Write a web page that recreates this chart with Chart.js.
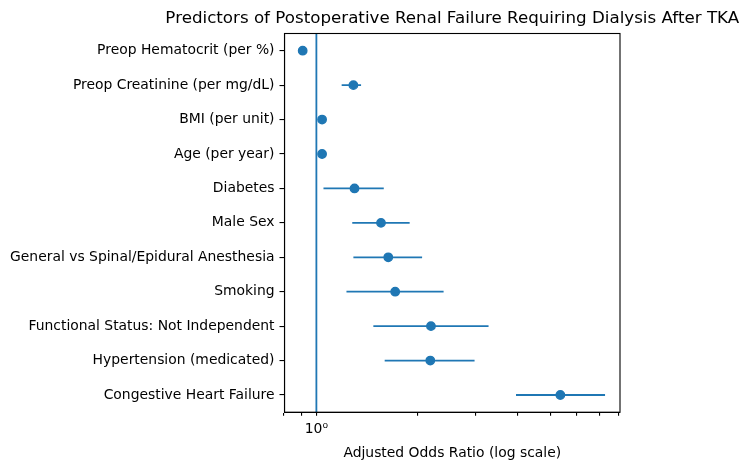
<!DOCTYPE html>
<html>
<head>
<meta charset="utf-8">
<script src="https://cdn.jsdelivr.net/npm/chart.js@4"></script>
<style>
  html, body { margin: 0; padding: 0; background: #fff; }
  #wrap { width: 747px; height: 470px; }
</style>
</head>
<body>
<div id="wrap"><canvas id="chart"></canvas></div>
<script>
// predictors, listed top to bottom as in the figure
const predictors = [
    "Preop Hematocrit (per %)",
    "Preop Creatinine (per mg/dL)",
    "BMI (per unit)",
    "Age (per year)",
    "Diabetes",
    "Male Sex",
    "General vs Spinal/Epidural Anesthesia",
    "Smoking",
    "Functional Status: Not Independent",
    "Hypertension (medicated)",
    "Congestive Heart Failure"
];
const oddsRatio = [0.91, 1.29, 1.04, 1.04, 1.30, 1.56, 1.64, 1.72, 2.20, 2.19, 5.36];
const ciLow     = [0.90, 1.19, 1.03, 1.03, 1.05, 1.28, 1.29, 1.23, 1.48, 1.60, 3.95];
const ciHigh    = [0.92, 1.36, 1.05, 1.05, 1.59, 1.90, 2.07, 2.40, 3.27, 2.97, 7.29];
const xTicks = [0.8, 0.9, 1, 2, 3, 4, 5, 6, 7, 8];

const titleText = "Predictors of Postoperative Renal Failure Requiring Dialysis After TKA";
const blue = "#1f77b4";
const n = predictors.length;
const rowOf = i => n - 1 - i;   // first predictor at the top

let datasets = [];

// confidence interval lines
predictors.forEach((p, i) => {
    datasets.push({
        type: "line",
        data: [{ x: ciLow[i], y: rowOf(i) }, { x: ciHigh[i], y: rowOf(i) }],
        borderColor: blue,
        borderWidth: 1.8,
        pointRadius: 0,
        fill: false
    });
});

// reference line at OR = 1
datasets.push({
    type: "line",
    data: [{ x: 1, y: -0.5 }, { x: 1, y: n - 0.5 }],
    borderColor: blue,
    borderWidth: 1.8,
    pointRadius: 0,
    fill: false
});

// point estimates
datasets.push({
    type: "scatter",
    data: oddsRatio.map((v, i) => ({ x: v, y: rowOf(i) })),
    backgroundColor: blue,
    borderColor: blue,
    borderWidth: 1.4,
    pointRadius: 4.2,
    pointHoverRadius: 4.2
});

// axes frame + title centred over the plot area (matplotlib style)
const frame = {
    id: "frame",
    afterDatasetsDraw(c) {
        const a = c.chartArea;
        const ctx = c.ctx;
        ctx.save();
        ctx.strokeStyle = "#000";
        ctx.lineWidth = 1.1;
        ctx.strokeRect(a.left, a.top, a.right - a.left, a.bottom - a.top);
        ctx.fillStyle = "#000";
        ctx.font = "16.7px 'DejaVu Sans', sans-serif";
        ctx.textAlign = "center";
        ctx.textBaseline = "middle";
        ctx.fillText(titleText, (a.left + a.right) / 2, 19);
        ctx.restore();
    }
};

Chart.defaults.font.family = "'DejaVu Sans', sans-serif";
Chart.defaults.color = "#000";

new Chart(document.getElementById("chart"), {
    type: "scatter",
    data: { datasets: datasets },
    options: {
        responsive: true,
        maintainAspectRatio: false,
        animation: false,
        layout: { padding: { left: 0, right: 127, top: 33.5, bottom: 0 } },
        plugins: {
            legend: { display: false },
            tooltip: { enabled: false },
            title: { display: false }
        },
        scales: {
            x: {
                type: "logarithmic",
                min: 0.803,
                max: 8.08,
                afterBuildTicks: s => { s.ticks = xTicks.map(v => ({ value: v })); },
                afterFit: s => { s.height = 57.8; },
                ticks: {
                    autoSkip: false,
                    maxRotation: 0,
                    padding: 5,
                    font: { size: 13.9 },
                    callback: v => (v === 1 ? "10\u2070" : "")
                },
                grid: { drawOnChartArea: false, tickLength: 3.5, color: "#000", lineWidth: 1.1 },
                border: { display: true, color: "#000", width: 1.1 },
                title: {
                    display: true,
                    text: "Adjusted Odds Ratio (log scale)",
                    font: { size: 13.9 },
                    padding: { top: 4, bottom: 8 }
                }
            },
            y: {
                type: "linear",
                min: -0.5,
                max: n - 0.5,
                afterBuildTicks: s => { s.ticks = predictors.map((p, i) => ({ value: i })); },
                afterFit: s => { s.width = 284.5; },
                ticks: {
                    autoSkip: false,
                    padding: 5,
                    font: { size: 13.9 },
                    callback: v => predictors[n - 1 - v]
                },
                grid: { drawOnChartArea: false, tickLength: 5, color: "#000", lineWidth: 1.1 },
                border: { display: true, color: "#000", width: 1.1 }
            }
        }
    },
    plugins: [frame]
});
</script>
</body>
</html>
